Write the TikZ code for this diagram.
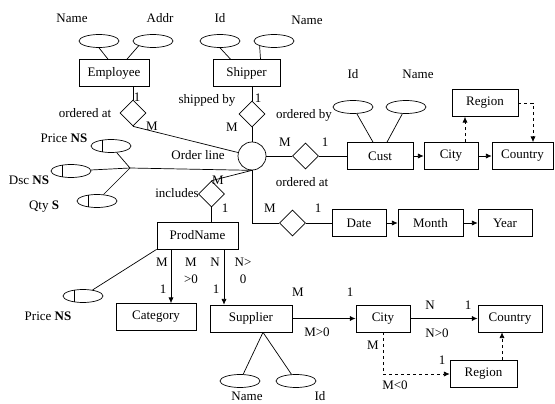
\documentclass[tikz,border=0pt]{standalone}
\usepackage{fontspec}
\setmainfont{Liberation Serif}
\usepackage{tikz}
\usetikzlibrary{arrows.meta,shapes.geometric}

\begin{document}
\begin{tikzpicture}[x=1pt, y=-1pt, line width=0.7pt,
	every node/.style={font=\fontsize{13}{15}\selectfont, inner sep=1pt},
	>={Latex[length=2mm, width=1.8mm]},
	ent/.style={draw, rectangle, minimum height=27pt, inner sep=0pt},
	attr/.style={draw, ellipse, minimum width=40pt, minimum height=13pt, inner sep=0pt},
	keyattr/.style={attr, path picture={\draw ([xshift=-9pt]path picture bounding box.north) -- ([xshift=-9pt]path picture bounding box.south);}},
	rel/.style={draw, diamond, aspect=1, minimum size=26pt, inner sep=0pt},
	hub/.style={draw, circle, minimum size=28pt, inner sep=0pt}]
	\useasboundingbox (0,0) rectangle (555,404);
	% entities
	\node[ent, minimum width=70pt] (emp) at (114,73) {Employee};
	\node[ent, minimum width=67pt] (ship) at (246.5,73) {Shipper};
	\node[hub] (ol) at (252,156) {};
	\node[ent, minimum width=66pt] (cust) at (380,156) {Cust};
	\node[ent, minimum width=54pt] (city1) at (451,156) {City};
	\node[ent, minimum width=61pt] (country1) at (522.5,156) {Country};
	\node[ent, minimum width=66pt] (region1) at (485,103) {Region};
	\node[ent, minimum width=54pt] (date) at (359,223) {Date};
	\node[ent, minimum width=65pt] (month) at (430.5,223) {Month};
	\node[ent, minimum width=54pt] (year) at (505,223) {Year};
	\node[ent, minimum width=81pt] (prod) at (197.5,235.5) {ProdName};
	\node[ent, minimum width=80pt] (cat) at (156,317) {Category};
	\node[ent, minimum width=82pt] (sup) at (251,318.5) {Supplier};
	\node[ent, minimum width=54pt] (city2) at (383,318.5) {City};
	\node[ent, minimum width=64pt] (country2) at (510,318.5) {Country};
	\node[ent, minimum width=67pt] (region2) at (483.5,374) {Region};
	% relationships
	\node[rel] (rEmp) at (133,113) {};
	\node[rel] (rShip) at (252,114) {};
	\node[rel] (rCust) at (305.5,156) {};
	\node[rel] (rInc) at (211.5,194) {};
	\node[rel] (rDate) at (292.5,223) {};
	% attributes
	\node[attr] (aEName) at (99,41) {};
	\node[attr] (aEAddr) at (153,41) {};
	\node[attr] (aSId) at (220,41) {};
	\node[attr] (aSName) at (274,41) {};
	\node[attr] (aCId) at (353,107) {};
	\node[attr] (aCName) at (406,107) {};
	\node[keyattr] (aPrice) at (111,146) {};
	\node[keyattr] (aDsc) at (71,171) {};
	\node[keyattr] (aQty) at (97,201) {};
	\node[keyattr] (aPrice2) at (83,296) {};
	\node[attr] (aSupName) at (240,381) {};
	\node[attr] (aSupId) at (296,381) {};
	\coordinate (hb) at (130,168);
	% texts
	\node (tEName) at (72,18) {Name};
	\node (tEAddr) at (160,18) {Addr};
	\node (tSId) at (220,18) {Id};
	\node (tSName) at (307,20) {Name};
	\node (tCId) at (353,74) {Id};
	\node (tCName) at (418,74) {Name};
	\node (tOl) at (198,155) {Order line};
	\node (tPrice) at (64,138) {Price \textbf{NS}};
	\node (tDsc) at (29,180) {Dsc \textbf{NS}};
	\node (tQty) at (44,207) {Qty \textbf{S}};
	\node (tPrice2) at (48,316) {Price \textbf{NS}};
	\node (tSupName) at (247,396) {Name};
	\node (tSupId) at (320,396) {Id};
	\node (tOrdAt) at (85,113) {ordered at};
	\node (tShipBy) at (207,100) {shipped by};
	\node (tOrdBy) at (304,115) {ordered by};
	\node (tOrdAt2) at (302,182) {ordered at};
	\node (tInc) at (177,193) {includes};
	% cardinalities
	\node (c1) at (137,97) {1};
	\node (c2) at (152,126) {M};
	\node (c3) at (258,98) {1};
	\node (c4) at (232,127) {M};
	\node (c5) at (285,142) {M};
	\node (c6) at (325,142) {1};
	\node (c7) at (218,180) {M};
	\node (c8) at (225,208) {1};
	\node (c9) at (270,208) {M};
	\node (c10) at (318,208) {1};
	\node (c11) at (162,262) {M};
	\node (c12) at (191,262) {M};
	\node (c13) at (191,279) {>0};
	\node (c14) at (163,289) {1};
	\node (c15) at (215,262) {N};
	\node (c16) at (243,262) {N>};
	\node (c17) at (243,279) {0};
	\node (c18) at (216,289) {1};
	\node (c19) at (298,292) {M};
	\node (c20) at (350,292) {1};
	\node (c21) at (317,332) {M>0};
	\node (c22) at (430,305) {N};
	\node (c23) at (468,305) {1};
	\node (c24) at (437,333) {N>0};
	\node (c25) at (373,345) {M};
	\node (c26) at (395,385) {M<0};
	\node (c27) at (442,360) {1};
	% attribute lines
	\draw (aEName.south) -- ([xshift=-6pt]emp.north);
	\draw (aEAddr.south west) -- ([xshift=13pt]emp.north);
	\draw (aSId.south) -- ([xshift=-16pt]ship.north);
	\draw (aSName.south west) -- ([xshift=14pt]ship.north);
	\draw (aCId) -- ([xshift=-7pt]cust.north);
	\draw (aCName) -- ([xshift=7pt]cust.north);
	\draw (hb) -- (aPrice);
	\draw (hb) -- (aDsc);
	\draw (hb) -- (aQty);
	\draw (hb) -- (ol.south);
	\draw (aPrice2) -- (prod.south west);
	\draw ([xshift=12pt]sup.south) -- (aSupName);
	\draw ([xshift=12pt]sup.south) -- (aSupId);
	% relationship lines
	\draw (rEmp.north) -- (rEmp.north |- emp.south);
	\draw (rEmp.south) -- (ol);
	\draw (rShip.north) -- (rShip.north |- ship.south);
	\draw (rShip.south) -- (ol.north);
	\draw (ol.east) -- (rCust.west);
	\draw (rCust.east) -- (cust.west);
	\draw (rInc.north) -- (ol.south);
	\draw (rInc.south) -- (rInc.south |- prod.north);
	\draw (ol.south) |- (rDate.west);
	\draw (rDate.east) -- (date.west);
	% hierarchies
	\draw[->] (cust) -- (city1);
	\draw[->] (city1) -- (country1);
	\draw[->, dashed] ([xshift=14pt]city1.north) -- ([xshift=14pt]city1.north |- region1.south);
	\draw[->, dashed] (region1.east) -| ([xshift=10.5pt]country1.north);
	\draw[->] (date) -- (month);
	\draw[->] (month) -- (year);
	\draw[->] ([xshift=-26.5pt]prod.south) -- ([xshift=-26.5pt]prod.south |- cat.north);
	\draw[->] ([xshift=26.5pt]prod.south) -- ([xshift=26.5pt]prod.south |- sup.north);
	\draw[->, line width=1pt] (sup) -- (city2);
	\draw[->, line width=1pt] (city2) -- (country2);
	\draw[->, dashed] (city2.south) |- (region2.west);
	\draw[->, dashed] ([xshift=18.5pt]region2.north) -- ([xshift=18.5pt]region2.north |- country2.south);
\end{tikzpicture}
\end{document}
